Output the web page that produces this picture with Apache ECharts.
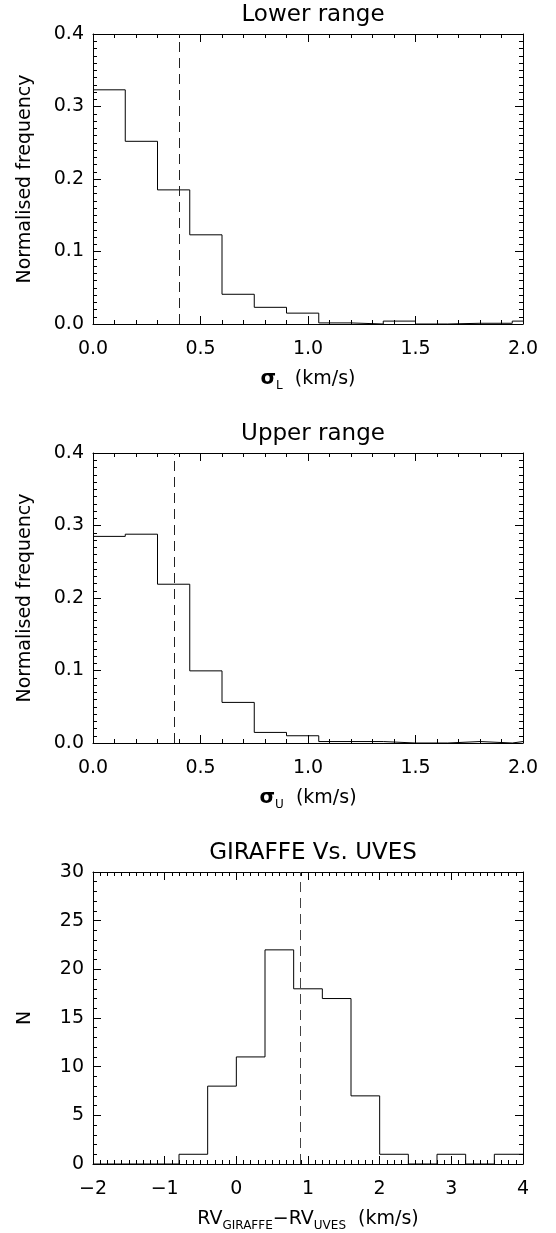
<!DOCTYPE html>
<html>
<head>
<meta charset="utf-8">
<script src="https://cdn.jsdelivr.net/npm/echarts@6/dist/echarts.min.js"></script>
<style>
html,body{margin:0;padding:0;background:#fff;}
#c{width:556px;height:1233px;}
</style>
</head>
<body>
<div id="c"></div>
<script>
// ---- data ----
const titles = ['Lower range', 'Upper range', 'GIRAFFE Vs. UVES'];

const lowerEdges = [0, 0.15, 0.30, 0.45, 0.60, 0.75, 0.90, 1.05, 1.20, 1.35, 1.50, 1.65, 1.80, 1.95, 2.0];
const lowerFreq  = [0.323, 0.252, 0.185, 0.123, 0.041, 0.023, 0.015, 0.0015, 0.0, 0.004, 0.0, 0.001, 0.001, 0.004];
const lowerMark  = 0.40;

const upperEdges = [0, 0.15, 0.30, 0.45, 0.60, 0.75, 0.90, 1.05, 1.20, 1.35, 1.50, 1.65, 1.80, 1.95, 2.0];
const upperFreq  = [0.285, 0.288, 0.219, 0.0995, 0.056, 0.0146, 0.010, 0.002, 0.002, 0.0, 0.0, 0.002, 0.0, 0.002];
const upperMark  = 0.38;

const rvEdges  = [-2.0, -1.6, -1.2, -0.8, -0.4, 0.0, 0.4, 0.8, 1.2, 1.6, 2.0, 2.4, 2.8, 3.2, 3.6, 4.0];
const rvCounts = [0, 0, 0, 1, 8, 11, 22, 18, 17, 7, 1, 0, 1, 0, 1];
const rvMark   = 0.89;

const freqTicks = ['0.0', '0.1', '0.2', '0.3', '0.4'];
const sigmaTicks = ['0.0', '0.5', '1.0', '1.5', '2.0'];
const rvTicks = ['−2', '−1', '0', '1', '2', '3', '4'];
const nTicks = ['0', '5', '10', '15', '20', '25', '30'];

// ---- helpers ----
function stepPoints(edges, vals) {
  const pts = vals.map((v, i) => [edges[i], v]);
  pts.push([edges[edges.length - 1], vals[vals.length - 1]]);
  return pts;
}

const FONT = 'DejaVu Sans';
const LABEL_SIZE = 19;
const grids = [
  {left: 93, right: 33, top: 34, height: 290},
  {left: 93, right: 33, top: 453, height: 290},
  {left: 93, right: 33, top: 872, height: 292}
];

const axisLine = {show: true, onZero: false, lineStyle: {color: '#000', width: 1}};

function xAx(gi, min, max, interval, minorSplit, labels, name, isTop) {
  return {
    type: 'value', gridIndex: gi, position: isTop ? 'top' : 'bottom',
    min: min, max: max, interval: interval,
    axisLine: axisLine,
    axisTick: {show: true, inside: true, length: 8, lineStyle: {color: '#000', width: 1}},
    minorTick: {show: true, splitNumber: minorSplit, length: 4, lineStyle: {color: '#000', width: 1}},
    splitLine: {show: false},
    axisLabel: isTop ? {show: false} : {
      show: true, color: '#000', fontFamily: FONT, fontSize: LABEL_SIZE, margin: 16,
      formatter: function (v) {
        const idx = Math.round((v - min) / interval);
        return labels[idx] !== undefined ? labels[idx] : '';
      }
    },
    name: isTop ? '' : name.text,
    nameLocation: 'middle',
    nameGap: name ? name.gap : 0,
    nameTextStyle: name ? name.style : {}
  };
}

function yAx(gi, min, max, interval, minorSplit, labels, name, isRight) {
  return {
    type: 'value', gridIndex: gi, position: isRight ? 'right' : 'left',
    min: min, max: max, interval: interval,
    axisLine: axisLine,
    axisTick: {show: true, inside: true, length: 8, lineStyle: {color: '#000', width: 1}},
    minorTick: {show: true, splitNumber: minorSplit, length: 4, lineStyle: {color: '#000', width: 1}},
    splitLine: {show: false},
    axisLabel: isRight ? {show: false} : {
      show: true, color: '#000', fontFamily: FONT, fontSize: LABEL_SIZE, margin: 9,
      formatter: function (v) {
        const idx = Math.round((v - min) / interval);
        return labels[idx] !== undefined ? labels[idx] : '';
      }
    },
    name: isRight ? '' : name,
    nameLocation: 'middle',
    nameGap: 58,
    nameRotate: 90,
    nameTextStyle: {color: '#000', fontFamily: FONT, fontSize: 19}
  };
}

const subRich = {
  g: {fontFamily: FONT, fontSize: 20, fontWeight: 'bold', color: '#000', lineHeight: 26},
  t: {fontFamily: FONT, fontSize: 19, color: '#000', lineHeight: 26},
  sub: {fontFamily: FONT, fontSize: 12, color: '#000', lineHeight: 12, verticalAlign: 'bottom'}
};

const nameL = {text: '{g|σ}{sub|L}{t|  (km/s)}', gap: 42, style: {rich: subRich}};
const nameU = {text: '{g|σ}{sub|U}{t|  (km/s)}', gap: 42, style: {rich: subRich}};
const nameRV = {text: '{t|RV}{sub|GIRAFFE}{t|−RV}{sub|UVES}{t|  (km/s)}', gap: 42, style: {rich: subRich}};

const xAxes = [
  xAx(0, 0, 2, 0.5, 5, sigmaTicks, nameL, false),
  xAx(0, 0, 2, 0.5, 5, sigmaTicks, null, true),
  xAx(1, 0, 2, 0.5, 5, sigmaTicks, nameU, false),
  xAx(1, 0, 2, 0.5, 5, sigmaTicks, null, true),
  xAx(2, -2, 4, 1, 10, rvTicks, nameRV, false),
  xAx(2, -2, 4, 1, 10, rvTicks, null, true)
];
const yAxes = [
  yAx(0, 0, 0.4, 0.1, 10, freqTicks, 'Normalised frequency', false),
  yAx(0, 0, 0.4, 0.1, 10, freqTicks, '', true),
  yAx(1, 0, 0.4, 0.1, 10, freqTicks, 'Normalised frequency', false),
  yAx(1, 0, 0.4, 0.1, 10, freqTicks, '', true),
  yAx(2, 0, 30, 5, 5, nTicks, 'N', false),
  yAx(2, 0, 30, 5, 5, nTicks, '', true)
];

function histSeries(gi, edges, vals, mark, dashColor) {
  return {
    type: 'line', xAxisIndex: gi * 2, yAxisIndex: gi * 2,
    data: stepPoints(edges, vals), step: 'end',
    showSymbol: false, symbol: 'none', silent: true, animation: false,
    lineStyle: {color: '#000', width: 1},
    markLine: {
      silent: true, symbol: 'none', animation: false,
      label: {show: false},
      lineStyle: {color: dashColor, width: 1, type: [10, 6]},
      data: [{xAxis: mark}]
    }
  };
}

const titleStyle = {color: '#000', fontFamily: FONT, fontSize: 23, fontWeight: 'normal'};
const plotCenter = 93 + (556 - 93 - 33) / 2;

const option = {
  backgroundColor: '#fff',
  animation: false,
  title: [
    {text: titles[0], left: plotCenter, textAlign: 'center', top: -1, textStyle: titleStyle},
    {text: titles[1], left: plotCenter, textAlign: 'center', top: 418, textStyle: titleStyle},
    {text: titles[2], left: plotCenter, textAlign: 'center', top: 837, textStyle: titleStyle}
  ],
  grid: grids,
  xAxis: xAxes,
  yAxis: yAxes,
  series: [
    histSeries(0, lowerEdges, lowerFreq, lowerMark, '#222'),
    histSeries(1, upperEdges, upperFreq, upperMark, '#222'),
    histSeries(2, rvEdges, rvCounts, rvMark, '#444')
  ]
};

const chart = echarts.init(document.getElementById('c'), null, {renderer: 'canvas'});
chart.setOption(option);
</script>
</body>
</html>
